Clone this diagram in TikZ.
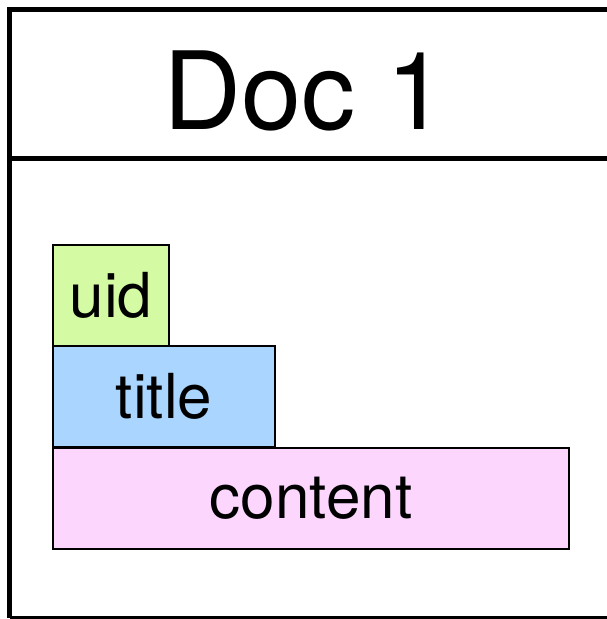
\documentclass[tikz,border=0pt]{standalone}
\usepackage{fontspec}
\setmainfont{TeX Gyre Heros}
\definecolor{uidfill}{HTML}{D4FBA4}
\definecolor{titlefill}{HTML}{A9D5FE}
\definecolor{contentfill}{HTML}{FDD6FE}
\begin{document}
\begin{tikzpicture}[x=1pt,y=1pt,
  field/.style={draw=black, line width=2pt, inner sep=0pt, anchor=north west,
    font=\fontsize{62}{62}\selectfont},
  frameline/.style={draw=black, line width=5pt}]
\useasboundingbox (0,0) rectangle (607,619);
\clip (0,0) rectangle (607,619);
% document frame, running off the right and bottom edges
\draw[frameline] (9.8,1) -- (9.8,609.2) -- (620,609.2);
\draw[frameline] (9.8,460) -- (620,460);
\draw[draw=black, line width=3pt] (9.8,1) -- (620,1);
\node[font=\fontsize{108}{108}\selectfont, anchor=base] (head) at (305,489) {Doc 1};
% fields
\node[field, fill=uidfill, minimum width=116pt, minimum height=101pt] (uid) at (52,375) {uid};
\node[field, fill=titlefill, minimum width=222pt, minimum height=101pt] (title) at (52,274) {title};
\node[field, fill=contentfill, minimum width=516pt, minimum height=101pt] (content) at (52,172) {content};
\end{tikzpicture}
\end{document}
